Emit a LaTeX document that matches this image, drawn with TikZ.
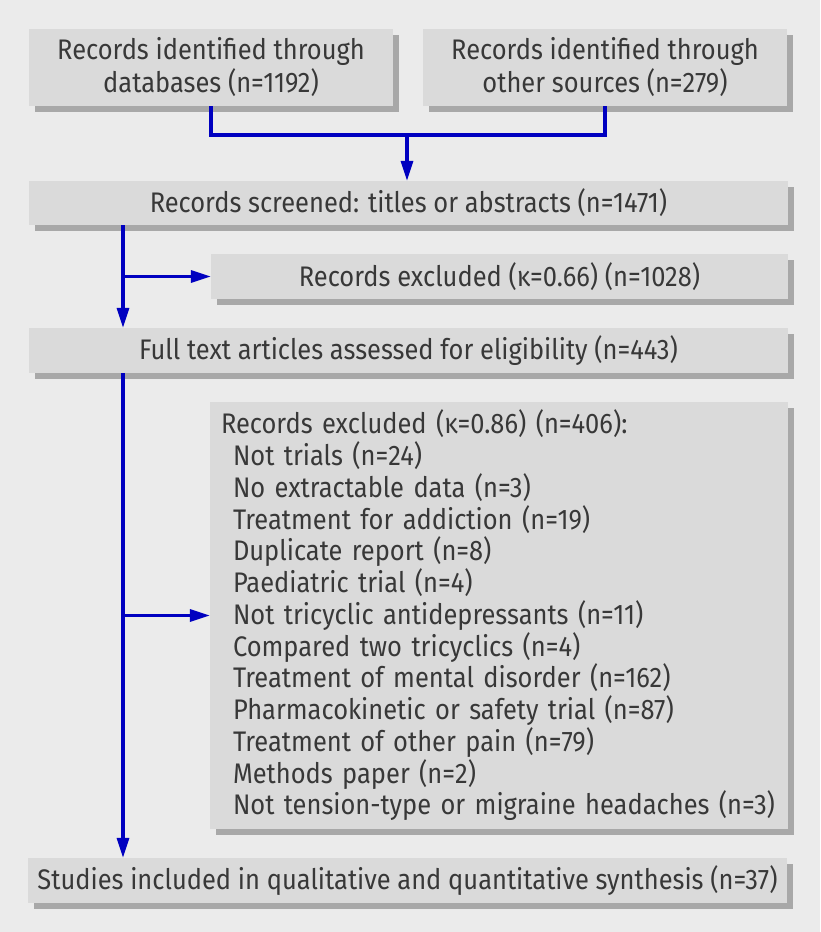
\documentclass[tikz,border=0pt]{standalone}
\usepackage{fontspec}
\setmainfont{Fira Sans}[FakeStretch=0.9]
\usetikzlibrary{arrows.meta,shadows}
\definecolor{bg}{HTML}{EBEBEB}
\definecolor{boxfill}{HTML}{DADADA}
\definecolor{shd}{HTML}{A8A8A8}
\definecolor{txt}{HTML}{383838}
\definecolor{flow}{HTML}{0000C0}
\tikzset{
  box/.style={fill=boxfill, draw=none, text=txt, inner sep=0pt, align=center,
    font=\fontsize{28.3}{33}\selectfont,
    drop shadow={shadow xshift=5.5pt, shadow yshift=-6pt, opacity=1, fill=shd}},
  flowline/.style={draw=flow, line width=3.2pt},
  flowarrow/.style={flowline, -{Triangle[length=20pt,width=12pt]}}
}
\begin{document}
\begin{tikzpicture}[x=1pt,y=1pt]
\fill[bg] (0,0) rectangle (820,-932);
\useasboundingbox (0,0) rectangle (820,-932);
\node[box, minimum width=364pt, minimum height=77pt] (b1) at (211,-67.5) {Records identified through\\databases (n=1192)};
\node[box, minimum width=364pt, minimum height=77pt] (b2) at (605,-67.5) {Records identified through\\other sources (n=279)};
\node[box, minimum width=759pt, minimum height=44pt] (b3) at (408.5,-203) {Records screened: titles or abstracts (n=1471)};
\node[box, minimum width=577pt, minimum height=45pt] (b4) at (499.5,-276.5) {Records excluded (κ=0.66) (n=1028)};
\node[box, minimum width=759pt, minimum height=45pt] (b5) at (408.5,-350.5) {Full text articles assessed for eligibility (n=443)};
\node[box, align=left, text width=556pt, minimum width=578pt, minimum height=427pt, font=\fontsize{28.3}{31.75}\selectfont] (b6) at (499,-615.5) {Records excluded (κ=0.86) (n=406):\\
\hspace*{12pt}Not trials (n=24)\\
\hspace*{12pt}No extractable data (n=3)\\
\hspace*{12pt}Treatment for addiction (n=19)\\
\hspace*{12pt}Duplicate report (n=8)\\
\hspace*{12pt}Paediatric trial (n=4)\\
\hspace*{12pt}Not tricyclic antidepressants (n=11)\\
\hspace*{12pt}Compared two tricyclics (n=4)\\
\hspace*{12pt}Treatment of mental disorder (n=162)\\
\hspace*{12pt}Pharmacokinetic or safety trial (n=87)\\
\hspace*{12pt}Treatment of other pain (n=79)\\
\hspace*{12pt}Methods paper (n=2)\\
\hspace*{12pt}Not tension-type or migraine headaches (n=3)};
\node[box, minimum width=759pt, minimum height=45pt] (b7) at (407.5,-880.5) {Studies included in qualitative and quantitative synthesis (n=37)};
% connectors
\coordinate (j) at (407,-135);
\coordinate (m) at (123,0);
\draw[flowline] (b1.south) |- (j);
\draw[flowline] (b2.south) |- (j);
\draw[flowarrow] (j) -- (j |- b3.north);
\draw[flowarrow] (b3.south -| m) -- (b5.north -| m);
\draw[flowarrow] (m |- b4.west) -- (b4.west);
\draw[flowarrow] (b5.south -| m) -- (b7.north -| m);
\draw[flowarrow] (m |- b6.west) -- (b6.west);
\end{tikzpicture}
\end{document}
